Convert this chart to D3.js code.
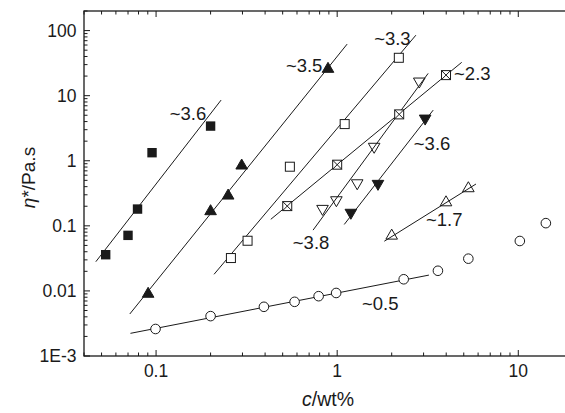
<!DOCTYPE html>
<html><head><meta charset="utf-8">
<script src="https://cdn.jsdelivr.net/npm/d3@7"></script>
<style>
html,body{margin:0;padding:0;background:#fff;}
svg{display:block;font-family:"Liberation Sans",Arial,sans-serif;}
</style></head>
<body>
<svg id="chart" width="565" height="413"></svg>
<script>
// ---- data ----
const xTickLabels = ["0.1", "1", "10"];
const xTickValues = [0.1, 1, 10];
const yTickLabels = ["1E-3", "0.01", "0.1", "1", "10", "100"];
const yTickValues = [0.001, 0.01, 0.1, 1, 10, 100];

const filledSquareX = [0.0527, 0.070, 0.079, 0.095, 0.20];
const filledSquareY = [0.036, 0.0714, 0.181, 1.33, 3.41];
const filledSquareFit = [[0.0465, 0.0281], [0.2286, 8.56]];

const filledTriX = [0.0904, 0.20, 0.25, 0.297, 0.89];
const filledTriY = [0.0092, 0.171, 0.297, 0.86, 26.3];
const filledTriFit = [[0.0716, 0.00442], [1.135, 62]];

const openSquareX = [0.259, 0.32, 0.548, 1.10, 2.19];
const openSquareY = [0.032, 0.059, 0.81, 3.66, 38.2];
const openSquareFit = [[0.209, 0.018], [2.72, 85]];

const crossSquareX = [0.53, 1.0, 2.2, 3.99];
const crossSquareY = [0.201, 0.87, 5.16, 20.7];
const crossSquareFit = [[0.43, 0.126], [4.87, 32.5]];

const openDownTriX = [0.83, 0.99, 1.29, 1.60, 2.84];
const openDownTriY = [0.179, 0.243, 0.443, 1.61, 16.2];
const openDownTriFit = [[0.736, 0.086], [3.18, 22]];

const filledDownTriX = [1.19, 1.68, 3.06];
const filledDownTriY = [0.156, 0.434, 4.37];
const filledDownTriFit = [[1.094, 0.105], [3.39, 6.0]];

const openTriX = [2.0, 3.99, 5.3];
const openTriY = [0.072, 0.234, 0.385];
const openTriFit = [[1.82, 0.058], [5.84, 0.439]];

const circleX = [0.0993, 0.2, 0.394, 0.582, 0.79, 0.987, 2.33, 3.6, 5.3, 10.2, 14.2];
const circleY = [0.0026, 0.0041, 0.0057, 0.0068, 0.0083, 0.0093, 0.0151, 0.0204, 0.0313, 0.0585, 0.110];
const circleFit = [[0.0722, 0.00223], [3.21, 0.0175]];

const slopeLabels = ["~3.6", "~3.5", "~3.3", "~2.3", "~3.6", "~3.8", "~1.7", "~0.5"];
const slopeLabelX = [0.119, 0.521, 1.6, 4.42, 2.65, 0.569, 3.09, 1.37];
const slopeLabelY = [4.2, 23, 60, 17.4, 1.46, 0.044, 0.0993, 0.0051];

// ---- chart ----
const svg = d3.select("#chart");
const x = d3.scaleLog().domain([0.04, 20]).range([84, 572.8]);
const y = d3.scaleLog().domain([0.001, 200]).range([356, 11]);
const ink = "#1a1a1a";

// frame
svg.append("rect").attr("x", x.range()[0]).attr("y", y.range()[1])
  .attr("width", x.range()[1] - x.range()[0]).attr("height", y.range()[0] - y.range()[1])
  .attr("fill", "none").attr("stroke", ink).attr("stroke-width", 1.3);

// ticks
function minorTicks(domain) {
  const out = [];
  for (let e = -4; e <= 3; e++) for (let m = 1; m <= 9; m++) {
    const v = m * Math.pow(10, e);
    if (v >= domain[0] * 0.999 && v <= domain[1] * 1.001) out.push({v, major: m === 1});
  }
  return out;
}
const xt = minorTicks(x.domain());
const yt = minorTicks(y.domain());
const g = svg.append("g").attr("stroke", ink).attr("stroke-width", 1);
xt.forEach(t => {
  const px = x(t.v), len = t.major ? 6 : 3.5;
  g.append("line").attr("x1", px).attr("x2", px).attr("y1", y.range()[0]).attr("y2", y.range()[0] - len);
  g.append("line").attr("x1", px).attr("x2", px).attr("y1", y.range()[1]).attr("y2", y.range()[1] + len);
});
yt.forEach(t => {
  const py = y(t.v), len = t.major ? 6 : 3.5;
  g.append("line").attr("x1", x.range()[0]).attr("x2", x.range()[0] + len).attr("y1", py).attr("y2", py);
});

// tick labels
xTickValues.forEach((v, i) => {
  svg.append("text").attr("x", x(v)).attr("y", 377).attr("text-anchor", "middle")
    .attr("font-size", 17.5).attr("fill", ink).text(xTickLabels[i]);
});
yTickValues.forEach((v, i) => {
  svg.append("text").attr("x", 76.5).attr("y", y(v) + 6.3).attr("text-anchor", "end")
    .attr("font-size", 17.5).attr("fill", ink).text(yTickLabels[i]);
});

// axis titles
const xt2 = svg.append("text").attr("x", 328).attr("y", 406).attr("text-anchor", "middle")
  .attr("font-size", 19.5).attr("fill", ink);
xt2.append("tspan").attr("font-style", "italic").text("c");
xt2.append("tspan").text("/wt%");
const yt2 = svg.append("text").attr("transform", "translate(35,177.5) rotate(-90)")
  .attr("text-anchor", "middle").attr("font-size", 19).attr("fill", ink);
yt2.append("tspan").attr("font-style", "italic").text("η");
yt2.append("tspan").text("*/Pa.s");

// fit lines
const fits = [filledSquareFit, filledTriFit, openSquareFit, crossSquareFit, openDownTriFit, filledDownTriFit, openTriFit, circleFit];
const line = d3.line().x(d => x(d[0])).y(d => y(d[1]));
fits.forEach(f => svg.append("path").attr("d", line(f)).attr("fill", "none").attr("stroke", ink).attr("stroke-width", 1));

// markers
function drawSeries(xs, ys, kind) {
  const gg = svg.append("g");
  xs.forEach((xv, i) => {
    const cx = x(xv), cy = y(ys[i]);
    if (kind === "fsq") {
      gg.append("rect").attr("x", cx - 4.7).attr("y", cy - 4.7).attr("width", 9.4).attr("height", 9.4).attr("fill", ink);
    } else if (kind === "osq" || kind === "xsq") {
      gg.append("rect").attr("x", cx - 4.5).attr("y", cy - 4.5).attr("width", 9).attr("height", 9)
        .attr("fill", "#fff").attr("stroke", ink).attr("stroke-width", 1);
      if (kind === "xsq") {
        gg.append("path").attr("d", `M${cx-4.5},${cy-4.5}L${cx+4.5},${cy+4.5}M${cx+4.5},${cy-4.5}L${cx-4.5},${cy+4.5}`)
          .attr("stroke", ink).attr("stroke-width", 1);
      }
    } else if (kind === "ftri" || kind === "otri") {
      gg.append("path").attr("d", `M${cx},${cy-6}L${cx+5.8},${cy+4}L${cx-5.8},${cy+4}Z`)
        .attr("fill", kind === "ftri" ? ink : "#fff").attr("fill-opacity", kind === "otri" ? 0 : 1)
        .attr("stroke", ink).attr("stroke-width", 1);
    } else if (kind === "fdtri" || kind === "odtri") {
      gg.append("path").attr("d", `M${cx},${cy+6}L${cx+5.8},${cy-4}L${cx-5.8},${cy-4}Z`)
        .attr("fill", kind === "fdtri" ? ink : "#fff").attr("fill-opacity", kind === "odtri" ? 0 : 1)
        .attr("stroke", ink).attr("stroke-width", 1);
    } else if (kind === "circ") {
      gg.append("circle").attr("cx", cx).attr("cy", cy).attr("r", 4.8)
        .attr("fill", "#fff").attr("stroke", ink).attr("stroke-width", 1);
    }
  });
}
drawSeries(filledSquareX, filledSquareY, "fsq");
drawSeries(filledTriX, filledTriY, "ftri");
drawSeries(openSquareX, openSquareY, "osq");
drawSeries(crossSquareX, crossSquareY, "xsq");
drawSeries(openDownTriX, openDownTriY, "odtri");
drawSeries(filledDownTriX, filledDownTriY, "fdtri");
drawSeries(openTriX, openTriY, "otri");
drawSeries(circleX, circleY, "circ");

// slope labels
slopeLabels.forEach((t, i) => {
  svg.append("text").attr("x", x(slopeLabelX[i])).attr("y", y(slopeLabelY[i]))
    .attr("font-size", 18.5).attr("fill", ink).text(t);
});
</script>
</body></html>
